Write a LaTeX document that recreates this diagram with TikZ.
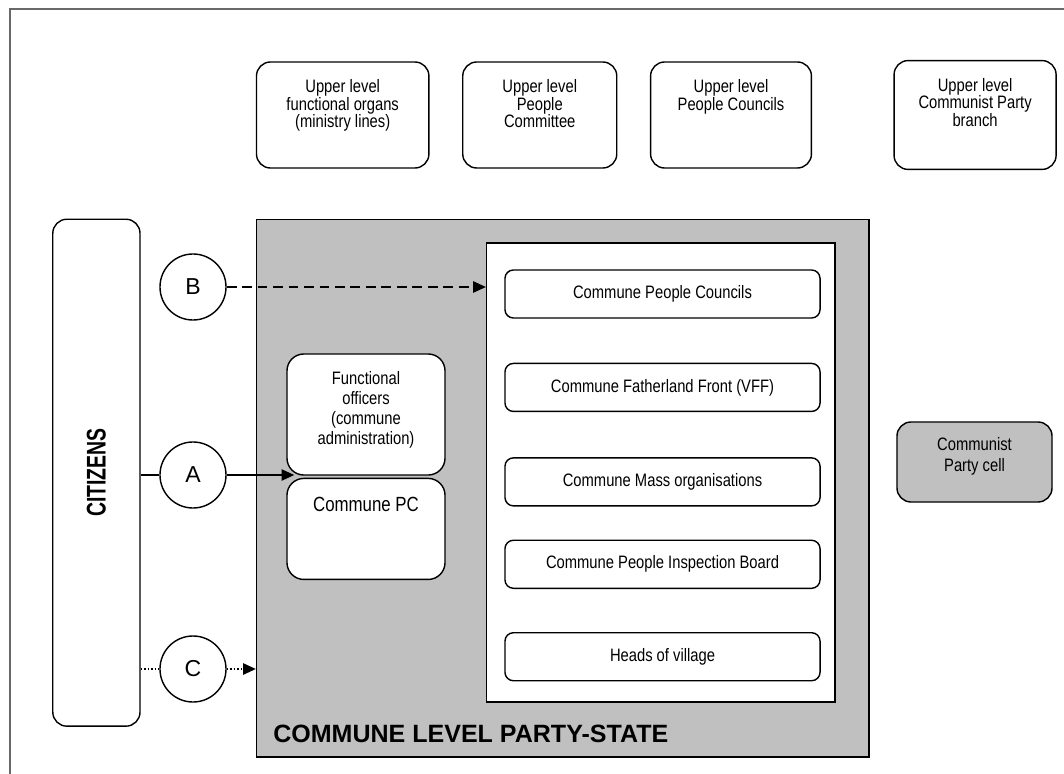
\documentclass[tikz,border=0pt]{standalone}
\usepackage{fontspec}
\setmainfont{Liberation Sans}
\newfontfamily\narrowsf{Liberation Sans}[FakeStretch=0.82]
\newfontfamily\citfont{Liberation Sans}[FakeStretch=0.72]
\usetikzlibrary{positioning}
\usetikzlibrary{shapes, arrows.meta}
\definecolor{stategray}{RGB}{192,192,192}
\definecolor{framegray}{RGB}{105,105,105}
\tikzstyle{upbox} = [rectangle, draw, line width=1pt, rounded corners=10pt, minimum height=2.65cm]
\tikzstyle{roundbox} = [rectangle, draw, fill=white, line width=1pt, rounded corners=12pt, minimum width=3.95cm]
\tikzstyle{orgbox} = [rectangle, draw, fill=white, line width=1pt, rounded corners=6pt, minimum width=7.875cm, minimum height=1.2cm, inner sep=0pt, font=\narrowsf\fontsize{12.8}{14.4}\selectfont]
\tikzstyle{boxtext} = [inner sep=0pt, align=center, font=\narrowsf\fontsize{12.8}{14.4}\selectfont]
\tikzstyle{uptext} = [boxtext, font=\narrowsf\fontsize{12.8}{12.4}\selectfont]
\tikzstyle{letter} = [circle, draw, fill=white, line width=1pt, minimum size=1.65cm, inner sep=0pt, font=\fontsize{16.4}{18}\selectfont]
\tikzstyle{line} = [draw, line width=1pt, -{Triangle[length=9pt, width=8pt]}]
\tikzstyle{dashline} = [line, dash pattern=on 7pt off 4pt]
\tikzstyle{dotline} = [line, line width=1.2pt, dash pattern=on 1.2pt off 1.3pt]

\begin{document}
\begin{tikzpicture}[x=0.025cm, y=-0.025cm]
    \useasboundingbox (0,0) rectangle (1064,774);
    \draw [framegray, line width=1.6pt] (10,776) -- (10,9) -- (1066,9);

    % upper level
    \node [upbox, minimum width=4.31cm] (upfunc) at (342.7,115) {};
    \node [upbox, minimum width=3.85cm, right=0.81cm of upfunc] (uppc) {};
    \node [upbox, minimum width=4.02cm, right=0.81cm of uppc] (upcouncil) {};
    \node [upbox, minimum width=4.05cm, minimum height=2.72cm, right=2.03cm of upcouncil] (upparty) {};
    \node [uptext, below=0.45cm of upfunc.north] (upfunc_t) {Upper level\\functional organs\\(ministry lines)};
    \node [uptext, below=0.45cm of uppc.north] (uppc_t) {Upper level\\People\\Committee};
    \node [uptext, below=0.45cm of upcouncil.north] (upcouncil_t) {Upper level\\People Councils};
    \node [uptext, below=0.45cm of upparty.north] (upparty_t) {Upper level\\Communist Party\\branch};

    % citizens and the commune
    \node [rectangle, draw, line width=1pt, rounded corners=10pt, minimum width=2.18cm, minimum height=12.67cm] (citizens) at (96.4,472.7) {};
    \node [rotate=90, inner sep=0pt, font=\citfont\bfseries\fontsize{19.2}{20}\selectfont] (citizens_t) at (citizens) {CITIZENS};
    \node [rectangle, draw, line width=1.1pt, fill=stategray, minimum width=15.31cm, minimum height=13.44cm] (partystate) at (562.9,488.2) {};
    \node [rectangle, draw, line width=1.1pt, fill=white, minimum width=8.71cm, minimum height=11.48cm] (organs) at (660.9,472.5) {};
    \node [inner sep=0pt, font=\bfseries\fontsize{17.8}{20}\selectfont, above right=0.38cm and 0.43cm of partystate.south west] (statelabel) {COMMUNE LEVEL PARTY-STATE};

    \node [orgbox] (council) at (662.5,294) {Commune People Councils};
    \node [orgbox, below=1.1cm of council] (front) {Commune Fatherland Front (VFF)};
    \node [orgbox, below=1.125cm of front] (mass) {Commune Mass organisations};
    \node [orgbox, below=0.825cm of mass] (inspect) {Commune People Inspection Board};
    \node [orgbox, below=1.075cm of inspect] (village) {Heads of village};

    \node [roundbox, minimum height=3.025cm] (funcoff) at (366,414.5) {};
    \node [roundbox, minimum height=2.525cm, below=0.05cm of funcoff] (commpc) {};
    \node [boxtext, below=0.44cm of funcoff.north] (funcoff_t) {Functional\\officers\\(commune\\administration)};
    \node [boxtext, font=\narrowsf\fontsize{14.6}{16}\selectfont, below=0.475cm of commpc.north] (commpc_t) {Commune PC};

    \node [rectangle, draw, fill=stategray, line width=1pt, rounded corners=10pt, minimum width=3.875cm, minimum height=2cm] (cell) at (974.5,462) {};
    \node [boxtext, font=\narrowsf\fontsize{12.8}{14.9}\selectfont, below=0.39cm of cell.north] (cell_t) {Communist\\Party cell};

    % channels
    \node [letter] (circB) at (193,287) {B};
    \node [letter] (circA) at (193,475) {A};
    \node [letter] (circC) at (193,669) {C};

    \path [dashline] (circB) -- (circB -| organs.west);
    \draw [line width=1pt] (citizens.east |- circA) -- (circA);
    \path [line] (circA) -- ([xshift=0.2cm]circA -| funcoff.west);
    \draw [line width=1.2pt, dash pattern=on 1.2pt off 1.3pt] (citizens.east |- circC) -- (circC);
    \path [dotline] (circC) -- (circC -| partystate.west);

\end{tikzpicture}
\end{document}
